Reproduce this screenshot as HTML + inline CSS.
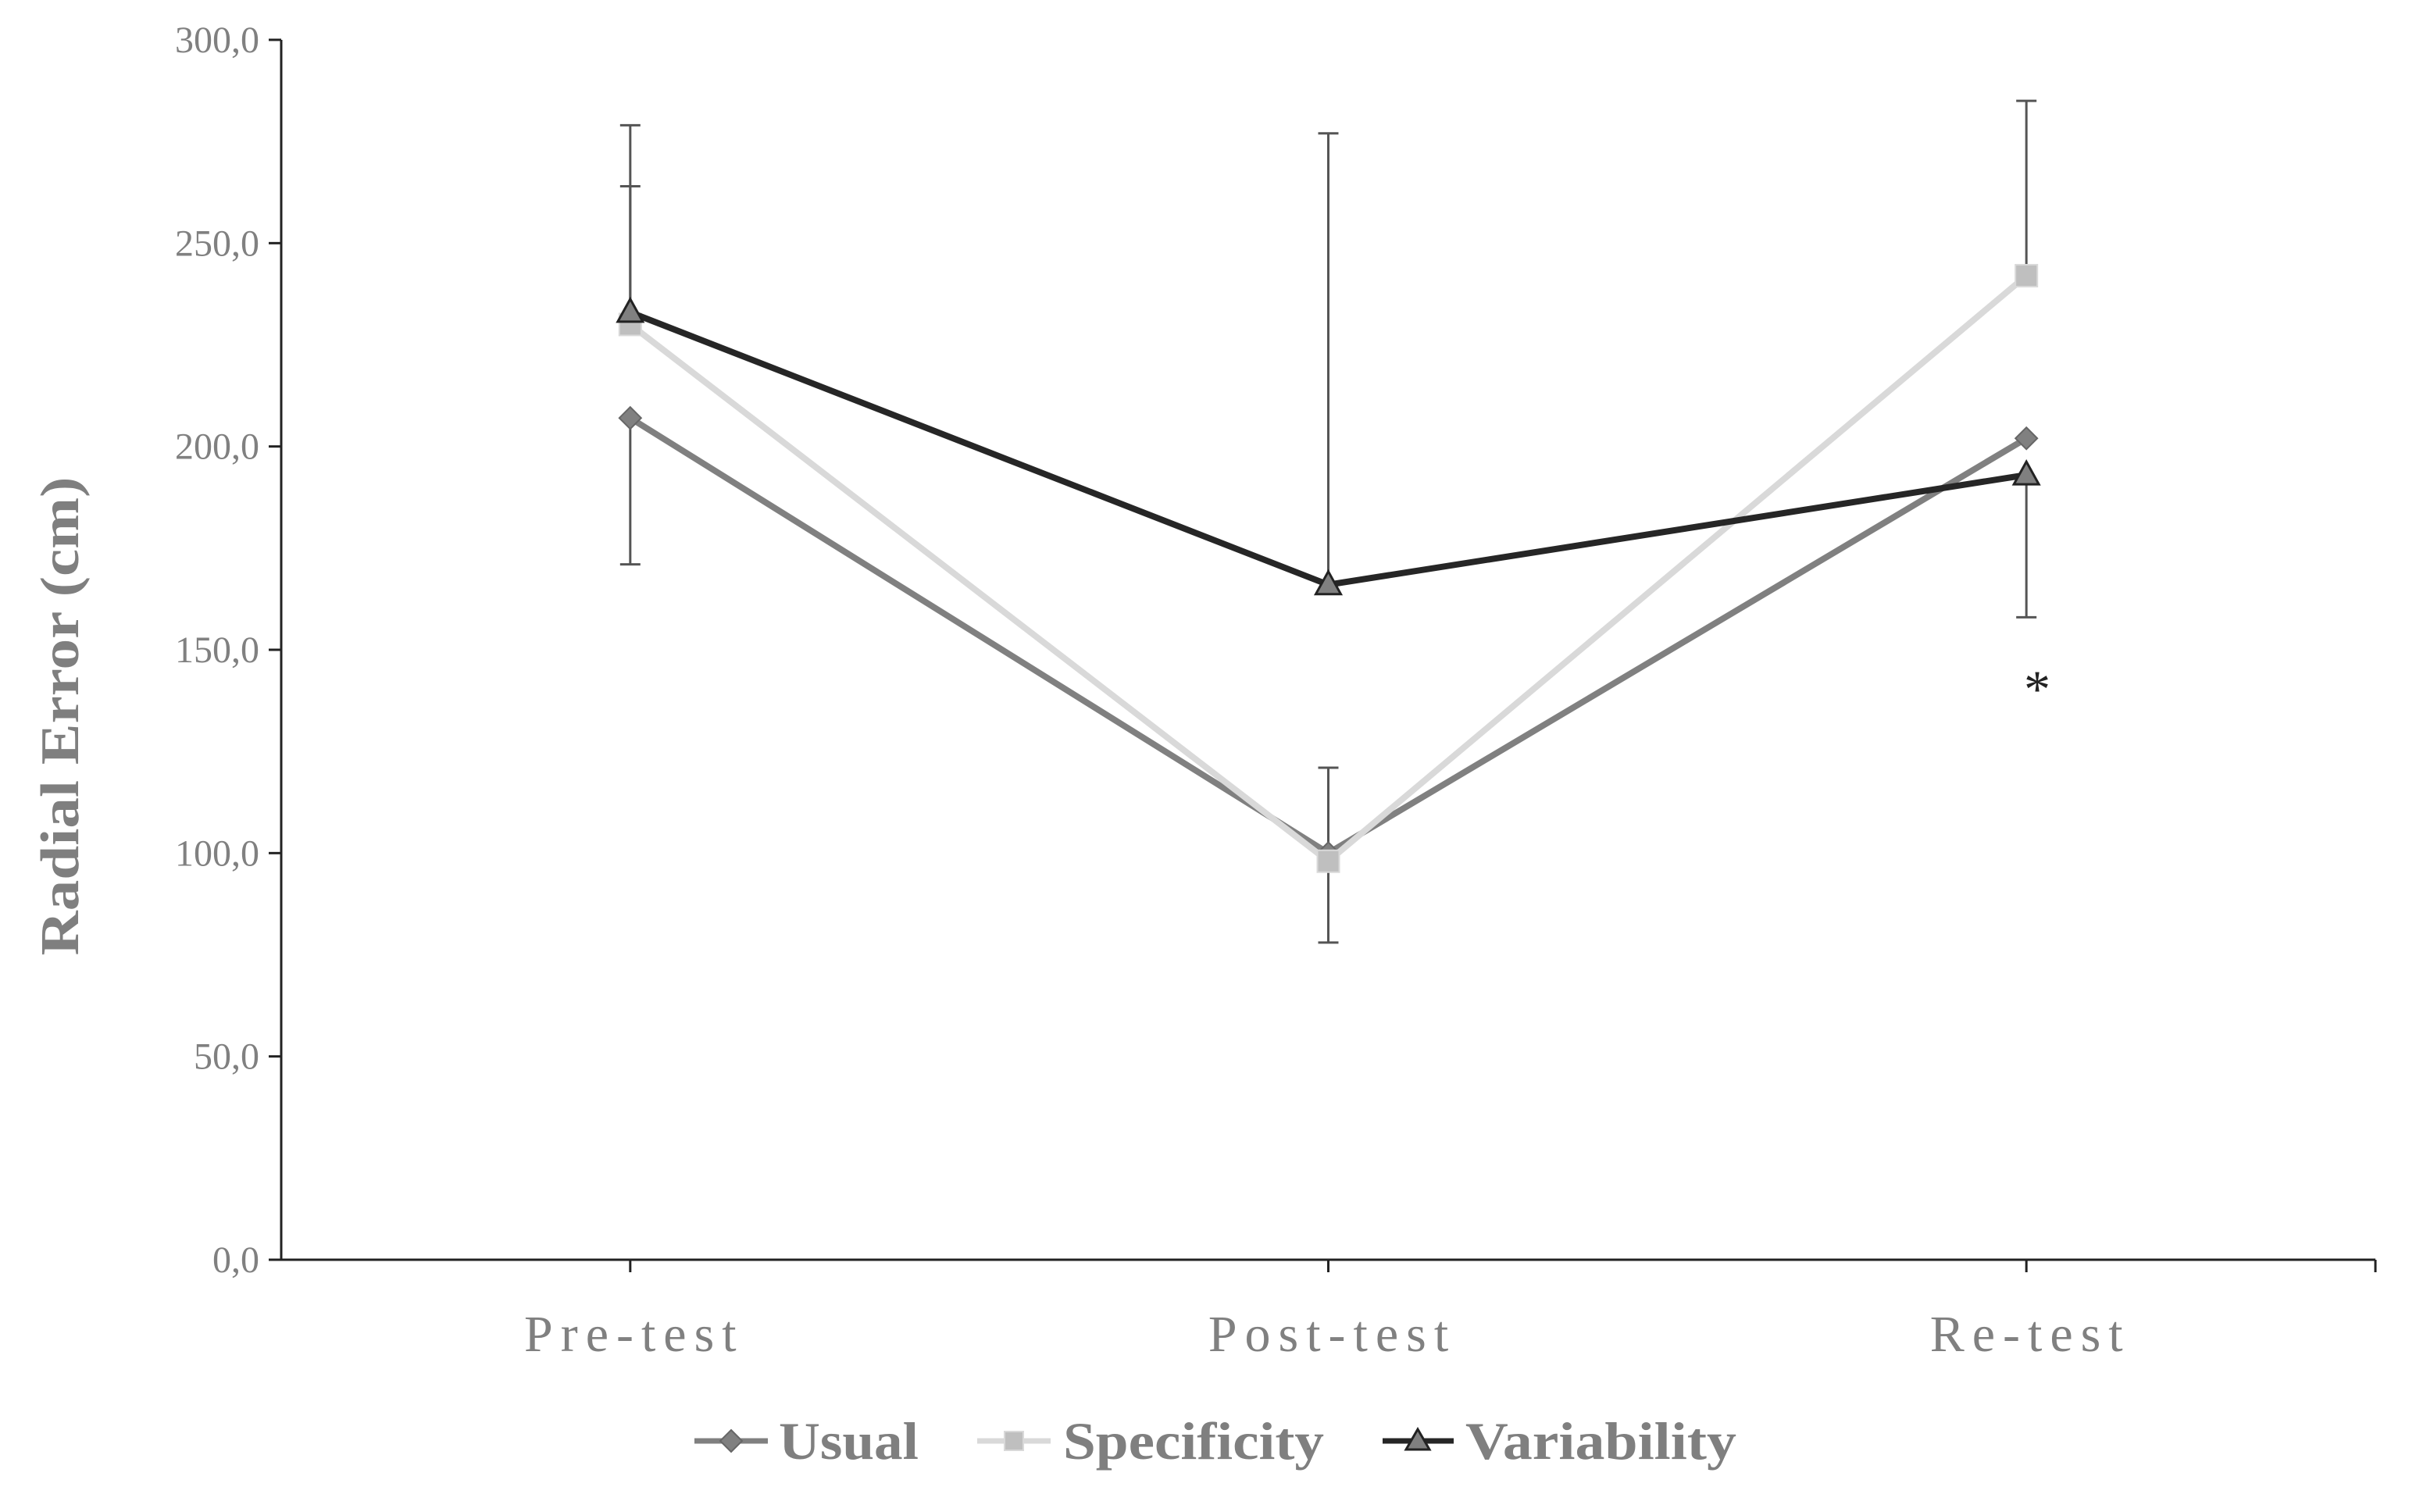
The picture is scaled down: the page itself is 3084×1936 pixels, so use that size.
<!DOCTYPE html>
<html><head><meta charset="utf-8"><style>
html,body{margin:0;padding:0;background:#fff;}
svg{display:block;font-family:"Liberation Serif",serif;}
</style></head><body>
<svg id="chart" width="3084" height="1936" viewBox="0 0 3084 1936" xmlns="http://www.w3.org/2000/svg">
<g id="axes"></g>
<g id="errs"></g>
<g id="series"></g>
<text x="2608" y="905" font-size="68" fill="#222" text-anchor="middle">*</text>
<text transform="translate(100,917) rotate(-90)" font-size="70" font-weight="bold" fill="#7f7f7f" text-anchor="middle" textLength="613" lengthAdjust="spacingAndGlyphs">Radial Error (cm)</text>
<g>
<g>
<line x1="889" y1="1845" x2="983" y2="1845" stroke="#808080" stroke-width="7"/>
<path d="M936 1831 L950 1845 L936 1859 L922 1845Z" fill="#808080" stroke="#666" stroke-width="2"/>
<text x="997" y="1868" font-size="68" font-weight="bold" fill="#7f7f7f" textLength="179" lengthAdjust="spacingAndGlyphs">Usual</text></g>
<g>
<line x1="1251" y1="1845" x2="1345" y2="1845" stroke="#d9d9d9" stroke-width="7"/>
<rect x="1286" y="1833" width="24" height="24" fill="#bfbfbf" stroke="#d9d9d9" stroke-width="2"/>
<text x="1361" y="1868" font-size="68" font-weight="bold" fill="#7f7f7f" textLength="334" lengthAdjust="spacingAndGlyphs">Specificity</text></g>
<g>
<line x1="1770" y1="1845" x2="1861" y2="1845" stroke="#262626" stroke-width="7"/>
<path d="M1815 1830 L1830 1856 L1800 1856Z" fill="#808080" stroke="#222" stroke-width="3"/>
<text x="1876" y="1868" font-size="68" font-weight="bold" fill="#7f7f7f" textLength="347" lengthAdjust="spacingAndGlyphs">Variability</text></g>
</g>
</svg>
<script>
const categories = ["Pre-test","Post-test","Re-test"];
const yTicks = [0,50,100,150,200,250,300];
const yTickLabels = ["0,0","50,0","100,0","150,0","200,0","250,0","300,0"];
const usualValues = [207,100,202];
const specificityValues = [230,98,242];
const variabilityValues = [233,166,193];
const usualErrUp = [0,21,0];
const usualErrDown = [36,0,0];
const specificityErrUp = [34,0,43];
const specificityErrDown = [0,20,0];
const variabilityErrUp = [46,111,0];
const variabilityErrDown = [0,0,35];

const NS="http://www.w3.org/2000/svg";
const X0=360,X1=3041,Y0=1613,Y1=51,YMAX=300;
const bandW=(X1-X0)/categories.length;
function xScale(i){return X0+bandW*(i+0.5);}
function yScale(v){return Y0-(v/YMAX)*(Y0-Y1);}
function mk(tag,attrs,parent){const e=document.createElementNS(NS,tag);for(const k in attrs)e.setAttribute(k,attrs[k]);parent.appendChild(e);return e;}
const axes=document.getElementById('axes');
const la=mk('line',{x1:X0,y1:Y1,x2:X0,y2:Y0,stroke:'#222','stroke-width':3},axes);


const lb=mk('line',{x1:X0,y1:Y0,x2:X1,y2:Y0,stroke:'#222','stroke-width':3},axes);


yTicks.forEach((v,i)=>{
  const y=yScale(v);
  const t=mk('line',{x1:X0-16,y1:y,x2:X0,y2:y,stroke:'#222','stroke-width':3},axes);
  
  
  const tx=mk('text',{x:X0-28,y:y+16,'font-size':48,fill:'#808080','text-anchor':'end'},axes);
  tx.textContent=yTickLabels[i];
  
  
});
categories.forEach((c,i)=>{
  const x=xScale(i);
  const tk=mk('line',{x1:x,y1:Y0,x2:x,y2:Y0+16,stroke:'#222','stroke-width':3},axes);
  
  
  const t=mk('text',{x:x+5,y:1730,'font-size':66,fill:'#808080','text-anchor':'middle','letter-spacing':10},axes);
  t.textContent=c;
  
  
});
const tkr=mk('line',{x1:X1,y1:Y0,x2:X1,y2:Y0+16,stroke:'#222','stroke-width':3},axes);


const errs=document.getElementById('errs');
[[usualValues,usualErrUp,usualErrDown],[specificityValues,specificityErrUp,specificityErrDown],[variabilityValues,variabilityErrUp,variabilityErrDown]].forEach(([vals,up,dn])=>{
  vals.forEach((v,i)=>{
    const x=xScale(i),y=yScale(v);
    [[up[i],1],[dn[i],-1]].forEach(([e,s])=>{
      if(!e)return;
      const ye=yScale(v+s*e);
      const g=mk('g',{stroke:'#555','stroke-width':3},errs);
      
      
      mk('line',{x1:x,y1:y,x2:x,y2:ye},g);
      mk('line',{x1:x-13,y1:ye,x2:x+13,y2:ye},g);
    });
  });
});
const series=document.getElementById('series');
function drawSeries(vals,color,name,marker){
  const g=mk('g',{},series);
  
  
  const pts=vals.map((v,i)=>xScale(i)+','+yScale(v)).join(' ');
  const pl=mk('polyline',{points:pts,fill:'none',stroke:color,'stroke-width':8,'stroke-linejoin':'round'},g);
  
  
  vals.forEach((v,i)=>{
    const x=xScale(i),y=yScale(v);let m;
    if(marker==='diamond')m=mk('path',{d:`M${x} ${y-14} L${x+14} ${y} L${x} ${y+14} L${x-14} ${y}Z`,fill:'#808080',stroke:'#666','stroke-width':2},g);
    else if(marker==='square')m=mk('rect',{x:x-14,y:y-14,width:28,height:28,fill:'#bfbfbf',stroke:'#d9d9d9','stroke-width':2},g);
    else m=mk('path',{d:`M${x} ${y-17} L${x+16} ${y+12} L${x-16} ${y+12}Z`,fill:'#808080',stroke:'#222','stroke-width':3},g);
    
    
  });
}
drawSeries(usualValues,'#808080','usual','diamond');
drawSeries(specificityValues,'#d9d9d9','specificity','square');
drawSeries(variabilityValues,'#262626','variability','triangle');
</script>
</body></html>
